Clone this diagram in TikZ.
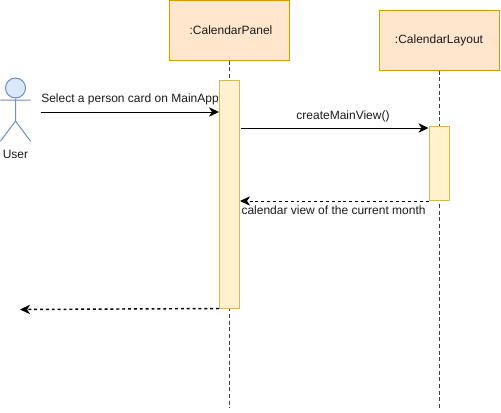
\documentclass[tikz,border=0pt]{standalone}
\usepackage{fontspec}
\setmainfont{Liberation Sans}
\usetikzlibrary{arrows.meta}
\definecolor{boxfill}{HTML}{FFE6CC}
\definecolor{boxline}{HTML}{D79B00}
\definecolor{barfill}{HTML}{FFF2CC}
\definecolor{barline}{HTML}{D6B656}
\definecolor{userfill}{HTML}{DAE8FC}
\definecolor{userline}{HTML}{6C8EBF}
\definecolor{txtcol}{HTML}{1A1A1A}
\begin{document}
\begin{tikzpicture}[x=0.75pt,y=-0.75pt,line width=0.75pt,
   every node/.style={font=\fontsize{9}{11}\selectfont,text=txtcol,inner sep=0pt},
   objbox/.style={draw=boxline,fill=boxfill,minimum width=90pt,minimum height=45pt},
   actbar/.style={draw=barline,fill=barfill,minimum width=15pt},
   lifeline/.style={densely dashed,black!75},
   msg/.style={-{Stealth[length=7.5pt,width=7pt,inset=2.2pt]},black},
   backmsg/.style={msg,dash pattern=on 2.2pt off 2.2pt}]

\useasboundingbox (0,0) rectangle (501,412);

% lifelines first, the bars go on top
\node[objbox] (panel) at (229,30) {\hspace{3pt}:CalendarPanel};
\node[objbox] (layout) at (439,40) {:CalendarLayout};
\coordinate (panelend) at (229,408);
\coordinate (layoutend) at (439,410);
\draw[lifeline] (panel.south) -- (panelend);
\draw[lifeline] (layout.south) -- (layoutend);

\node[actbar,minimum height=171pt] (panelbar) at (229.5,194) {};
\node[actbar,minimum height=55.5pt] (layoutbar) at (439,163.5) {};

% user
\node[draw=userline,fill=userfill,circle,minimum size=15pt] (head) at (15.5,88) {};
\coordinate (hip) at (15.5,121);
\coordinate (armL) at (0.5,100);
\coordinate (armR) at (30.5,100);
\coordinate (legL) at (0.5,141);
\coordinate (legR) at (30.5,141);
\draw[userline] (head.south) -- (hip) (armL) -- (armR) (legL) -- (hip) -- (legR);
\node (user) at (15.5,154) {User};

% messages
\coordinate (selstart) at (41,112);
\coordinate (crstart) at (241,128);
\coordinate (retend) at (20,309.5);
\draw[msg] (selstart) -- (selstart -| panelbar.west);
\draw[msg] (crstart) -- (crstart -| layoutbar.west);
\draw[backmsg] (layoutbar.south west) -- (layoutbar.south west -| panelbar.east);
\draw[backmsg,line width=1.1pt] (panelbar.south west) -- (retend);

\node (sellabel) at (130,99.5) {Select a person card on MainApp};
\node (crlabel) at (343,116) {createMainView()};
\node[anchor=west] (retlabel) at (241,210) {calendar view of the current month};
\end{tikzpicture}
\end{document}
